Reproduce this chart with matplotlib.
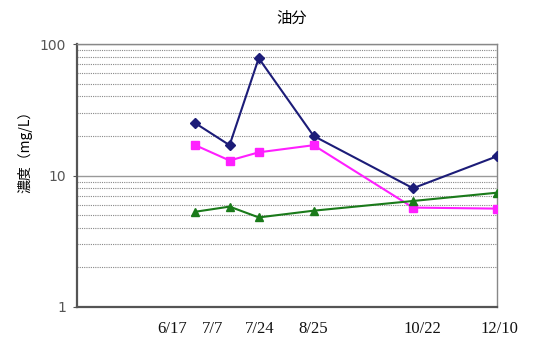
import datetime as dt
import matplotlib
matplotlib.use("Agg")
import matplotlib.pyplot as plt
import matplotlib.dates as mdates
from matplotlib.ticker import LogLocator, NullFormatter, FixedLocator, FixedFormatter

plt.rcParams['font.family'] = ['Noto Sans CJK JP', 'DejaVu Sans']

# sampling dates and oil concentrations (mg/L)
dates = ['6/17', '7/7', '7/24', '8/25', '10/22', '12/10']
site_a = [25, 17, 78, 20, 8.0, 14]
site_b = [17, 13, 15, 17, 5.7, 5.6]
site_c = [5.3, 5.8, 4.8, 5.4, 6.4, 7.4]

year = 2008
x = [dt.date(year, int(d.split('/')[0]), int(d.split('/')[1])) for d in dates]
xn = mdates.date2num(x)

fig = plt.figure(figsize=(5.34, 3.41), dpi=100)
ax = fig.add_axes([77 / 534, 34 / 341, 420 / 534, 263 / 341])

ax.plot(xn, site_a, color='#1c1c78', marker='D', markersize=5, lw=1.5, zorder=3)
ax.plot(xn, site_b, color='#ff1fff', marker='s', markersize=6, lw=1.5, zorder=3)
ax.plot(xn, site_c, color='#1a7a1a', marker='^', markersize=6, lw=1.5, zorder=3)

ax.set_yscale('log')
ax.set_ylim(1, 100)
ax.set_xlim(mdates.date2num(dt.date(year, 4, 9)), xn[-1])

ax.yaxis.set_major_locator(FixedLocator([1, 10, 100]))
ax.yaxis.set_major_formatter(FixedFormatter(['1', '10', '100']))
ax.yaxis.set_minor_locator(LogLocator(base=10, subs=range(2, 10)))
ax.yaxis.set_minor_formatter(NullFormatter())
ax.tick_params(axis='y', which='major', length=3, color='#555555', labelsize=10,
               labelcolor='#555555', pad=5)
ax.tick_params(axis='y', which='minor', length=0)
for lab in ax.get_yticklabels():
    lab.set_fontfamily('DejaVu Sans')

ax.grid(True, which='minor', axis='y', color='#888888', lw=0.8, ls=(0, (1, 1)))
ax.grid(True, which='major', axis='y', color='#999999', lw=1.0)

# date labels sit under each sample, nudged sideways so they don't crowd
ax.set_xticks(xn)
ax.set_xticklabels([])
ax.tick_params(axis='x', length=0)
nudge = [-17, -12, 1, 0, 7, 2]
for xv, lab, dx in zip(xn, dates, nudge):
    ax.annotate(lab, xy=(xv, 0), xycoords=('data', 'axes fraction'),
                xytext=(dx, -16), textcoords='offset points',
                ha='center', va='center', fontfamily='Liberation Serif',
                fontsize=12, color='#111111', annotation_clip=False)

for side in ['left', 'bottom']:
    ax.spines[side].set_color('#555555')
    ax.spines[side].set_linewidth(1.6)
for side in ['top', 'right']:
    ax.spines[side].set_color('#888888')
    ax.spines[side].set_linewidth(1.0)

fig.text(292 / 534, 1 - 18 / 341, '油分', ha='center', va='center', fontsize=11)
fig.text(25 / 534, 1 - 148 / 341, '濃度（mg/L）', ha='center', va='center',
         rotation=90, fontsize=10)

fig.savefig('out.png', dpi=100)
